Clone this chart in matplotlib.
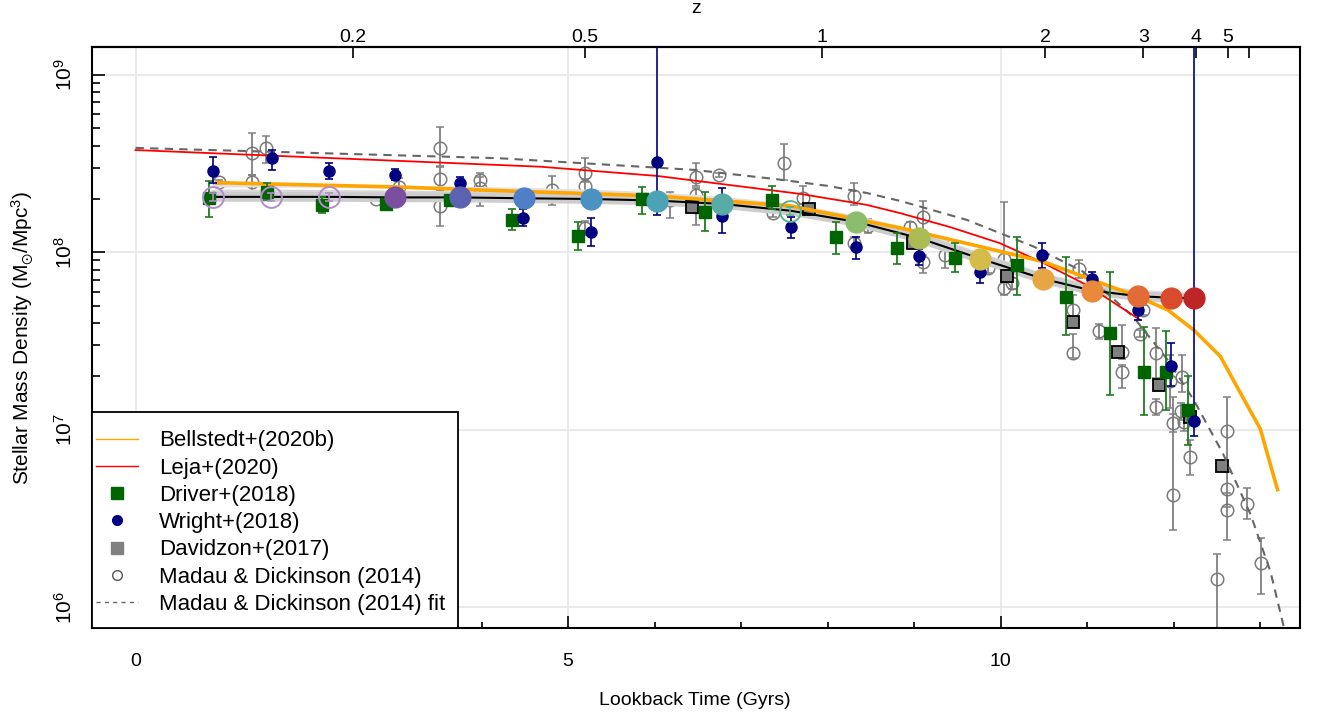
import numpy as np
import matplotlib
matplotlib.use("Agg")
import matplotlib.pyplot as plt
from matplotlib.lines import Line2D
from matplotlib.patches import Rectangle

plt.rcParams['font.family'] = ['Liberation Sans', 'DejaVu Sans']
plt.rcParams['mathtext.fontset'] = 'custom'
plt.rcParams['mathtext.rm'] = 'Liberation Sans'
plt.rcParams['mathtext.it'] = 'Liberation Sans'
plt.rcParams['mathtext.default'] = 'regular'

# ---- data (log10 stellar mass density vs lookback time in Gyr) ----
# ProSpect-style bins, coloured by redshift
circ_t = [0.90, 1.57, 2.24, 3.00, 3.75, 4.49, 5.26, 6.03, 6.78, 7.57, 8.33, 9.06, 9.76, 10.49, 11.05, 11.59, 11.97, 12.23]
circ_log = [8.313, 8.313, 8.313, 8.310, 8.310, 8.305, 8.301, 8.292, 8.273, 8.235, 8.172, 8.080, 7.965, 7.851, 7.785, 7.753, 7.744, 7.742]
circ_err = [0.022, 0.022, 0.022, 0.02, 0.02, 0.02, 0.02, 0.02, 0.02, 0.022, 0.02, 0.02, 0.02, 0.02, 0.02, 0.02, 0.02, 0.02]
circ_open = [True, True, True, False, False, False, False, False, False, True, False, False, False, False, False, False, False, False]
circ_col = ['#B48CCB', '#B48CCB', '#B48CCB', '#7B4F9F', '#5C62B0', '#4F7FC6', '#4A92C2', '#4CA2B6', '#58ABA6',
            '#5DB187', '#8BBD6C', '#ADBB55', '#D4BC4B', '#E6A644', '#E8893C', '#E36B35', '#DA4A2C', '#BF2525']

# faint alternative fits around the main curve
grey_a = [8.375, 8.375, 8.372, 8.368, 8.362, 8.355, 8.345, 8.330, 8.305, 8.265, 8.200, 8.110, 7.990, 7.875, 7.810, 7.780, 7.772, 7.770]
grey_b = [8.345, 8.345, 8.343, 8.340, 8.336, 8.330, 8.322, 8.310, 8.290, 8.250, 8.190, 8.100, 7.980, 7.865, 7.800, 7.770, 7.760, 7.758]

bell_t = [0.94, 3.00, 4.49, 6.03, 7.57, 8.84, 9.76, 10.49, 11.06, 11.53, 11.93, 12.23, 12.54, 12.77, 13.00, 13.20]
bell_log = [8.393, 8.369, 8.343, 8.318, 8.262, 8.138, 8.033, 7.948, 7.845, 7.761, 7.676, 7.563, 7.413, 7.208, 7.006, 6.662]

leja_t = [0.0, 4.68, 6.03, 7.68, 8.45, 8.84, 9.42, 9.99, 10.49, 10.99, 11.61]
leja_log = [8.577, 8.483, 8.431, 8.330, 8.268, 8.221, 8.142, 8.052, 7.941, 7.817, 7.620]

mdfit_t = [0.0, 4.20, 6.46, 7.42, 8.00, 8.45, 8.84, 9.61, 10.38, 10.95, 11.53, 11.93, 12.23, 12.57, 12.89, 13.12, 13.28]
mdfit_log = [8.589, 8.531, 8.465, 8.412, 8.375, 8.335, 8.290, 8.183, 8.033, 7.892, 7.638, 7.394, 7.169, 6.865, 6.521, 6.197, 5.873]

wr_t = [0.89, 1.58, 2.24, 3.00, 3.75, 4.48, 5.26, 6.03, 6.78, 7.58, 8.33, 9.06, 9.76, 10.48, 11.05, 11.59, 11.97, 12.23]
wr_log = [8.459, 8.531, 8.459, 8.437, 8.393, 8.196, 8.117, 8.512, 8.207, 8.142, 8.029, 7.980, 7.892, 7.986, 7.851, 7.674, 7.362, 7.052]
wr_up = [0.08, 0.046, 0.047, 0.032, 0.034, 0.047, 0.079, 0.80, 0.155, 0.06, 0.06, 0.04, 0.049, 0.069, 0.04, 0.019, 0.128, 2.2]
wr_dn = [0.07, 0.066, 0.047, 0.03, 0.022, 0.047, 0.08, 0.30, 0.095, 0.062, 0.067, 0.05, 0.062, 0.075, 0.04, 0.058, 0.118, 0.086]

dr_t = [0.85, 1.52, 2.16, 2.90, 3.64, 4.35, 5.11, 5.85, 6.58, 7.36, 8.10, 8.80, 9.47, 10.19, 10.75, 11.26, 11.66, 11.91, 12.16]
dr_log = [8.305, 8.343, 8.268, 8.272, 8.296, 8.183, 8.093, 8.301, 8.230, 8.296, 8.086, 8.024, 7.967, 7.930, 7.751, 7.545, 7.328, 7.328, 7.113]
dr_up = [0.098, 0.05, 0.045, 0.03, 0.03, 0.06, 0.081, 0.07, 0.113, 0.079, 0.088, 0.084, 0.088, 0.156, 0.225, 0.347, 0.254, 0.226, 0.191]
dr_dn = [0.103, 0.05, 0.044, 0.03, 0.03, 0.056, 0.079, 0.086, 0.109, 0.05, 0.094, 0.089, 0.075, 0.169, 0.216, 0.352, 0.243, 0.215, 0.198]

dv_t = [6.43, 7.78, 8.99, 10.07, 10.84, 11.36, 11.83, 12.19, 12.56]
dv_log = [8.255, 8.243, 8.052, 7.868, 7.607, 7.441, 7.254, 7.072, 6.793]

md_t = [0.97, 1.35, 1.35, 1.51, 2.78, 3.04, 3.52, 3.52, 3.52, 3.98, 3.98, 4.81, 5.19, 5.19, 5.19,
        6.18, 6.48, 6.48, 6.48, 6.75, 7.49, 7.37, 7.71, 8.30, 8.30, 8.47, 8.95, 9.10, 9.10, 9.36,
        9.85, 10.04, 10.04, 10.13, 10.91, 10.84, 10.84, 11.14, 11.40, 11.40, 11.65, 11.61, 11.80, 11.80,
        11.96, 11.99, 11.99, 12.10, 12.08, 12.12, 12.19, 12.50, 12.62, 12.62, 12.62, 12.85, 13.01]
md_log = [8.395, 8.559, 8.395, 8.587, 8.301, 8.369, 8.587, 8.414, 8.264, 8.408, 8.362, 8.352, 8.446, 8.375, 8.136,
          8.296, 8.424, 8.324, 8.255, 8.437, 8.503, 8.221, 8.305, 8.318, 8.055, 8.149, 8.142, 8.198, 7.943, 7.986,
          7.914, 7.962, 7.798, 7.826, 7.905, 7.676, 7.432, 7.554, 7.441, 7.323, 7.676, 7.541, 7.432, 7.128,
          7.272, 7.039, 6.634, 7.300, 7.103, 7.045, 6.848, 6.159, 6.990, 6.663, 6.545, 6.583, 6.248]
md_up = [0.015, 0.113, 0.041, 0.069, 0.01, 0.05, 0.118, 0.07, 0.09, 0.04, 0.065, 0.081, 0.088, 0.04, 0.04,
         0.047, 0.079, 0.04, 0.05, 0.01, 0.108, 0.02, 0.07, 0.075, 0.03, 0.04, 0.03, 0.094, 0.04, 0.075,
         0.03, 0.321, 0.04, 0.03, 0.05, 0.085, 0.108, 0.04, 0.151, 0.04, 0.03, 0.02, 0.141, 0.045,
         0.15, 0.05, 0.55, 0.123, 0.05, 0.05, 0.092, 0.138, 0.193, 0.10, 0.10, 0.09, 0.143]
md_dn = [0.015, 0.122, 0.049, 0.084, 0.01, 0.05, 0.10, 0.07, 0.118, 0.04, 0.10, 0.084, 0.05, 0.04, 0.04,
         0.104, 0.05, 0.04, 0.10, 0.01, 0.095, 0.02, 0.03, 0.05, 0.03, 0.04, 0.03, 0.099, 0.06, 0.075,
         0.03, 0.06, 0.04, 0.03, 0.05, 0.05, 0.027, 0.04, 0.04, 0.086, 0.03, 0.02, 0.14, 0.045,
         0.15, 0.05, 0.20, 0.09, 0.05, 0.05, 0.103, 0.40, 0.23, 0.10, 0.164, 0.087, 0.172]

z_ticks = [0.2, 0.5, 1, 2, 3, 4, 5, 6]
z_labels = ['0.2', '0.5', '1', '2', '3', '4', '5', '']


def lin(v):
    return 10 ** np.asarray(v, dtype=float)


def yerr(logv, up, dn):
    logv, up, dn = map(np.asarray, (logv, up, dn))
    return [10**logv - 10**(logv - dn), 10**(logv + up) - 10**logv]


def lookback(z, H0=67.8, Om=0.308):
    zz = np.linspace(0, z, 4000)
    f = 1.0 / ((1 + zz) * np.sqrt(Om * (1 + zz)**3 + 1 - Om))
    return 977.8 / H0 * np.trapezoid(f, zz)


fig = plt.figure(figsize=(13.17, 7.13), dpi=100)
ax = fig.add_axes([0.06986, 0.11921, 0.91724, 0.81487])
ax.set_yscale('log')
ax.set_xlim(-0.503, 13.46)
ax.set_ylim(10**5.882, 10**9.158)

# grid
for gx in [0, 5, 10]:
    ax.axvline(gx, color='#E6E6E6', lw=1.2, zorder=0)
for gy in [1e6, 1e7, 1e8, 1e9]:
    ax.axhline(gy, color='#E6E6E6', lw=1.2, zorder=0)

# MD14 compilation
ax.errorbar(md_t, lin(md_log), yerr=yerr(md_log, md_up, md_dn), fmt='o', ms=9, mfc='none',
            mec='#7A7A7A', mew=1.1, ecolor='#808080', elinewidth=1.3, capsize=3, capthick=1.2, zorder=2)

# faint curves and main fit
ax.plot(circ_t, lin(grey_a), color='#E0E0E0', lw=2.2, zorder=3)
ax.plot(circ_t, lin(grey_b), color='#D8D8D8', lw=2.2, zorder=3)
ax.plot(circ_t, lin(circ_log), color='#CDCDCD', lw=7, zorder=3, solid_capstyle='butt')

# Davidzon
ax.plot(dv_t, lin(dv_log), 's', ms=9, mfc='#808080', mec='black', mew=1.3, zorder=4)

# Madau & Dickinson fit, Leja, Bellstedt
ax.plot(mdfit_t, lin(mdfit_log), color='#666666', lw=1.5, ls=(0, (4, 3)), zorder=4)
ax.plot(leja_t, lin(leja_log), color='red', lw=1.3, zorder=5)
ax.plot(bell_t, lin(bell_log), color='orange', lw=2.6, zorder=5)
ax.plot(circ_t, lin(circ_log), color='black', lw=1.5, zorder=6)

# Driver, Wright
ax.errorbar(dr_t, lin(dr_log), yerr=yerr(dr_log, dr_up, dr_dn), fmt='s', ms=8.5, mfc='#006400',
            mec='#006400', ecolor='#1E7D1E', elinewidth=1.3, capsize=3, capthick=1.2, zorder=7)
ax.errorbar(wr_t, lin(wr_log), yerr=yerr(wr_log, wr_up, wr_dn), fmt='o', ms=8, mfc='#000080',
            mec='#000080', ecolor='#000080', elinewidth=1.2, capsize=3, capthick=1.2, zorder=7)

# redshift-coloured bins
for t, v, e, c, op in zip(circ_t, circ_log, circ_err, circ_col, circ_open):
    ax.errorbar([t], [10**v], yerr=yerr([v], [e], [e]), fmt='none', ecolor=c, elinewidth=1.2,
                capsize=3, capthick=1.2, zorder=8)
    if op:
        ax.plot(t, 10**v, 'o', ms=15, mfc='none', mec=c, mew=1.4, zorder=9)
    else:
        ax.plot(t, 10**v, 'o', ms=15, mfc=c, mec=c, zorder=9)

# axes styling
for s in ax.spines.values():
    s.set_linewidth(1.5)
ax.set_xticks([0, 5, 10])
ax.set_xticks([1, 2, 3, 4, 6, 7, 8, 9, 11, 12, 13], minor=True)
ax.set_xticklabels(['0', '5', '10'])
ax.set_yticks([1e6, 1e7, 1e8, 1e9])
ax.set_yticklabels(['$10^{6}$', '$10^{7}$', '$10^{8}$', '$10^{9}$'])
ax.tick_params(axis='both', which='both', direction='in', labelsize=14, width=1.2)
ax.tick_params(axis='x', which='major', length=9, pad=18)
ax.tick_params(axis='x', which='minor', length=4.5)
ax.tick_params(axis='y', which='major', length=9, pad=12, labelrotation=90, labelsize=15)
ax.tick_params(axis='y', which='minor', length=6)
ax.yaxis.set_minor_formatter(matplotlib.ticker.NullFormatter())
for lab in ax.get_yticklabels():
    lab.set_va('center')

ax.set_xlabel('Lookback Time (Gyrs)', fontsize=14)
ax.xaxis.set_label_coords(0.499, -0.11)
ax.set_ylabel(r'Stellar Mass Density (M$_{\odot}$/Mpc$^{3}$)', fontsize=15)
ax.yaxis.set_label_coords(-0.047, 0.5)

top = ax.secondary_xaxis('top')
top.set_xticks([lookback(z) for z in z_ticks])
top.set_xticklabels(z_labels)
top.tick_params(direction='in', length=8, width=1.2, labelsize=14, pad=0.5)
top.spines['top'].set_linewidth(1.5)
top.set_xlabel('z', fontsize=14, labelpad=12)

# legend with a box pinned to the lower-left corner
box = Rectangle((0, 0), 0.303, 0.372, transform=ax.transAxes, fc='white', ec='black', lw=1.3, zorder=20)
ax.add_patch(box)
handles = [
    Line2D([], [], color='orange', lw=1),
    Line2D([], [], color='red', lw=1),
    Line2D([], [], ls='none', marker='s', ms=8, mfc='#006400', mec='#006400'),
    Line2D([], [], ls='none', marker='o', ms=7, mfc='#000080', mec='#000080'),
    Line2D([], [], ls='none', marker='s', ms=8, mfc='#808080', mec='#808080'),
    Line2D([], [], ls='none', marker='o', ms=7, mfc='none', mec='#555555'),
    Line2D([], [], color='#666666', lw=1, ls=(0, (3, 3))),
]
labels = ['Bellstedt+(2020b)', 'Leja+(2020)', 'Driver+(2018)', 'Wright+(2018)', 'Davidzon+(2017)',
          'Madau & Dickinson (2014)', 'Madau & Dickinson (2014) fit']
leg = ax.legend(handles, labels, loc='upper left', bbox_to_anchor=(0.003, 0.340), frameon=False,
                fontsize=16, handlelength=1.9, handletextpad=0.95, labelspacing=0.28, borderpad=0,
                borderaxespad=0)
leg.set_zorder(25)

fig.savefig('out.png', dpi=100)
